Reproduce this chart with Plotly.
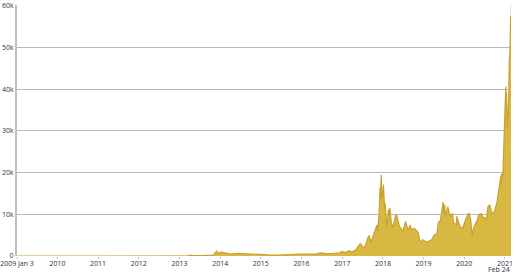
import plotly.graph_objects as go

dates = [
    "2009-01-03", "2010-07-01", "2011-01-01", "2011-02-10", "2011-06-08", "2011-07-15", "2011-10-20",
    "2012-01-01", "2012-06-01", "2012-08-15", "2012-12-01", "2013-01-15", "2013-03-15", "2013-04-10",
    "2013-05-01", "2013-07-05", "2013-09-01", "2013-10-15", "2013-11-01", "2013-11-30", "2013-12-18",
    "2014-01-05", "2014-02-10", "2014-03-15", "2014-04-10", "2014-06-05", "2014-08-15", "2014-10-05",
    "2014-12-15", "2015-01-14", "2015-03-10", "2015-06-10", "2015-09-10", "2015-11-04", "2015-12-20",
    "2016-02-10", "2016-05-10", "2016-06-16", "2016-08-05", "2016-10-10", "2016-12-10",
    "2017-01-04", "2017-01-12", "2017-02-10", "2017-03-03", "2017-03-24", "2017-04-15", "2017-05-01",
    "2017-05-25", "2017-06-12", "2017-07-16", "2017-08-01", "2017-08-17", "2017-09-01", "2017-09-15",
    "2017-10-01", "2017-10-20", "2017-11-08", "2017-11-12", "2017-11-26", "2017-12-07", "2017-12-10",
    "2017-12-17", "2017-12-22", "2017-12-28", "2018-01-06", "2018-01-16", "2018-01-20", "2018-02-06",
    "2018-02-20", "2018-02-26", "2018-03-05", "2018-03-18", "2018-04-01", "2018-04-24", "2018-05-05",
    "2018-05-28", "2018-06-10", "2018-06-29", "2018-07-24", "2018-08-14", "2018-09-04", "2018-09-12",
    "2018-10-10", "2018-11-14", "2018-11-25", "2018-12-15", "2018-12-25", "2019-01-10", "2019-02-07",
    "2019-03-15", "2019-04-05", "2019-05-01", "2019-05-14", "2019-06-01", "2019-06-26", "2019-07-02",
    "2019-07-10", "2019-07-17", "2019-08-06", "2019-08-28", "2019-09-19", "2019-09-26", "2019-10-23",
    "2019-10-26", "2019-11-25", "2019-12-18", "2020-01-14", "2020-02-12", "2020-02-28", "2020-03-12",
    "2020-03-25", "2020-04-30", "2020-05-08", "2020-06-01", "2020-06-27", "2020-07-20", "2020-08-01",
    "2020-08-17", "2020-09-05", "2020-09-30", "2020-10-21", "2020-11-05", "2020-11-24", "2020-11-26",
    "2020-12-01", "2020-12-12", "2020-12-17", "2020-12-27", "2021-01-03", "2021-01-08", "2021-01-11",
    "2021-01-14", "2021-01-22", "2021-01-28", "2021-02-03", "2021-02-08", "2021-02-14", "2021-02-21",
    "2021-02-24",
]
prices = [
    0, 0.06, 0.3, 1, 18, 14, 4,
    6, 6.5, 11, 13, 14, 60, 210,
    115, 90, 130, 200, 210, 1150, 550,
    950, 800, 600, 450, 650, 550, 380,
    320, 180, 270, 230, 235, 400, 430,
    380, 450, 750, 580, 620, 780,
    1130, 800, 1000, 1280, 940, 1100, 1400,
    2400, 2950, 1900, 2800, 4300, 4900, 3200,
    4400, 6000, 7400, 5900, 9300, 16500, 13800,
    19400, 13800, 14500, 17100, 11200, 12700, 6900,
    11200, 9600, 11500, 7800, 6900, 9600, 9800,
    7200, 6700, 5900, 8300, 6200, 7400, 6300,
    6600, 5600, 3900, 3200, 3900, 3600, 3400,
    3900, 5000, 5400, 8000, 8500, 12900, 10000,
    12300, 9400, 11800, 9500, 10200, 8100, 7400,
    9500, 7000, 6600, 8800, 10300, 8700, 4900,
    6700, 8800, 9900, 10200, 9000, 9200, 11800,
    12300, 10100, 10800, 12900, 15600, 19100, 17100,
    19700, 18800, 23100, 26300, 32800, 40600, 35500,
    39200, 30800, 33400, 37600, 46200, 48700, 57500,
    57000,
]

y_ticks = [0, 10000, 20000, 30000, 40000, 50000, 60000]
y_labels = ["0", "10k", "20k", "30k", "40k", "50k", "60k"]
x_ticks = ["2009-01-03"] + [f"{y}-01-01" for y in range(2010, 2022)]
x_labels = ["2009 Jan 3"] + [str(y) for y in range(2010, 2022)]
end_label = "Feb 24"

fig = go.Figure()
fig.add_trace(go.Scatter(
    x=dates, y=prices, mode="lines", fill="tozeroy",
    line=dict(color="#c9a22c", width=1.2),
    fillcolor="#d8b843", hoverinfo="skip",
))

fig.add_shape(type="line", xref="x", yref="paper", x0=dates[-1], x1=dates[-1], y0=0, y1=1,
              line=dict(color="#c0c0c0", width=1), layer="below")

font = dict(family="Liberation Sans Narrow, Open Sans", size=7, color="#2b3145")
fig.add_annotation(x=dates[-1], y=0, xref="x", yref="paper", text=end_label,
                   showarrow=False, xanchor="right", yanchor="middle", yshift=-13,
                   font=font, borderpad=0)

fig.update_layout(
    width=520, height=272, margin=dict(l=17, r=9, t=5, b=16),
    paper_bgcolor="white", plot_bgcolor="white", showlegend=False,
    font=font,
    xaxis=dict(range=[dates[0], dates[-1]], tickvals=x_ticks, ticktext=x_labels,
               showgrid=False, zeroline=False, ticks="outside", ticklen=2,
               tickcolor="#c0c0c0", tickfont=font, showline=False, automargin=False,
               ticklabelstandoff=-1, ticklabeloverflow="allow"),
    yaxis=dict(range=[0, 60150], tickvals=y_ticks, ticktext=y_labels,
               showgrid=True, gridcolor="#b8b8b8", gridwidth=1, zeroline=False,
               showline=True, linecolor="#c0c0c0", linewidth=2, ticks="",
               tickfont=font, ticklabelstandoff=0, automargin=False,
               ticklabeloverflow="allow"),
)
fig.write_html("out.html")
